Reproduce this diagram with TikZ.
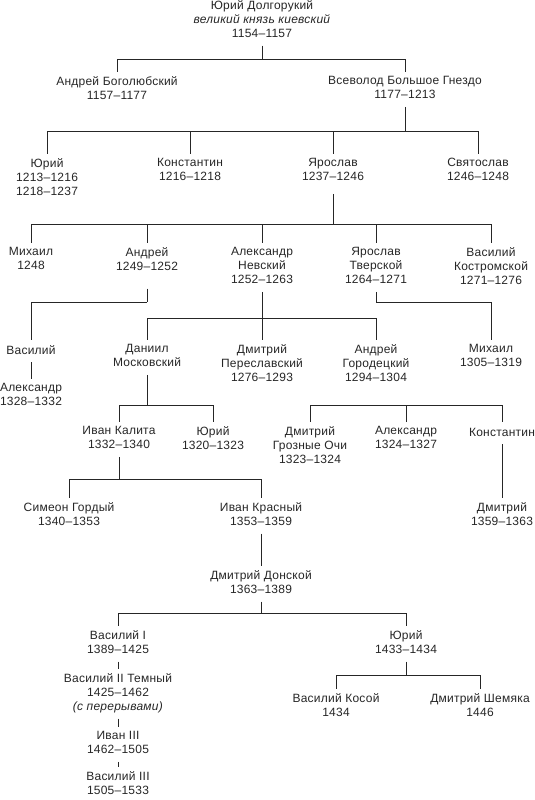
\documentclass[tikz,border=0pt]{standalone}
\usepackage{fontspec}
\setmainfont[LetterSpace=2]{Liberation Sans}
\begin{document}
\begin{tikzpicture}[x=1pt,y=-1pt,
    prince/.style={anchor=north,align=center,inner xsep=1pt,inner ysep=4pt,text=black!85,
      font=\fontsize{12}{14}\selectfont,
      execute at begin node=\strut,execute at end node=\strut},
    link/.style={draw=black!85,line width=0.8pt}]
    \useasboundingbox (0,0) rectangle (535,800);

    % princes
    \node[prince] (yudol) at (262,-4) {Юрий Долгорукий\\\textit{великий князь киевский}\\1154–1157};

    \node[prince] (anbog) at (117,72) {Андрей Боголюбский\\1157–1177};
    \node[prince] (vsev) at (405,72) {Всеволод Большое Гнездо\\1177–1213};

    \node[prince] (yuri) at (47,154) {Юрий\\1213–1216\\1218–1237};
    \node[prince] (konst) at (190,154) {Константин\\1216–1218};
    \node[prince] (yarosl) at (333,154) {Ярослав\\1237–1246};
    \node[prince] (svyat) at (478,154) {Святослав\\1246–1248};

    \node[prince] (mikh) at (31,243) {Михаил\\1248};
    \node[prince] (andr) at (147,243) {Андрей\\1249–1252};
    \node[prince] (nevsk) at (262,243) {Александр\\Невский\\1252–1263};
    \node[prince] (tversk) at (376,243) {Ярослав\\Тверской\\1264–1271};
    \node[prince] (kostr) at (491,243) {Василий\\Костромской\\1271–1276};

    \node[prince] (vasil) at (31,340) {Василий};
    \node[prince] (daniil) at (147,340) {Даниил\\Московский};
    \node[prince] (peresl) at (262,340) {Дмитрий\\Переславский\\1276–1293};
    \node[prince] (gorod) at (376,340) {Андрей\\Городецкий\\1294–1304};
    \node[prince] (mikhtv) at (491,340) {Михаил\\1305–1319};

    \node[prince] (alexv) at (31,379) {Александр\\1328–1332};

    \node[prince] (kalita) at (119,422) {Иван Калита\\1332–1340};
    \node[prince] (yurmos) at (213,422) {Юрий\\1320–1323};
    \node[prince] (groz) at (310,422) {Дмитрий\\Грозные Очи\\1323–1324};
    \node[prince] (alextv) at (406,422) {Александр\\1324–1327};
    \node[prince] (konstv) at (502,422) {Константин};

    \node[prince] (simeon) at (69,498) {Симеон Гордый\\1340–1353};
    \node[prince] (ivkras) at (261,498) {Иван Красный\\1353–1359};
    \node[prince] (dmitv) at (502,498) {Дмитрий\\1359–1363};

    \node[prince] (donsk) at (261,566) {Дмитрий Донской\\1363–1389};

    \node[prince] (vas1) at (118,626) {Василий I\\1389–1425};
    \node[prince] (yurzv) at (406,626) {Юрий\\1433–1434};
    \node[prince] (vas2) at (118,669) {Василий II Темный\\1425–1462\\\textit{(с перерывами)}};
    \node[prince] (kosoy) at (336,689) {Василий Косой\\1434};
    \node[prince] (shem) at (480,689) {Дмитрий Шемяка\\1446};
    \node[prince] (ivan3) at (118,727) {Иван III\\1462–1505};
    \node[prince] (vas3) at (118,767) {Василий III\\1505–1533};

    % junctions
    \coordinate (j1) at (262,59);
    \coordinate (j2) at (405,131);
    \coordinate (j3) at (333,224);
    \coordinate (j4) at (147,302);
    \coordinate (j5) at (262,318);
    \coordinate (j6) at (376,302);
    \coordinate (j7) at (147,405);
    \coordinate (j8) at (406,405);
    \coordinate (j9) at (119,479);
    \coordinate (j10) at (261,613);
    \coordinate (j11) at (406,675);

    % lines
    \draw[link] (yudol) -- (j1) (j1) -| (anbog) (j1) -| (vsev);
    \draw[link] (vsev) -- (j2) (j2) -| (yuri) (j2) -| (konst) (j2) -| (yarosl) (j2) -| (svyat);
    \draw[link] ([yshift=-5pt]yarosl.south) -- (j3) (j3) -| (mikh) (j3) -| (andr) (j3) -| (nevsk) (j3) -| (tversk) (j3) -| (kostr);
    \draw[link] ([yshift=-10pt]andr.south) -- (j4) (j4) -| (vasil);
    \draw[link] (nevsk) -- (peresl) (j5) -| (daniil) (j5) -| (gorod);
    \draw[link] (tversk) -- (j6) (j6) -| (mikhtv);
    \draw[link] (vasil) -- (alexv);
    \draw[link] (daniil) -- (j7) (j7) -| (kalita) (j7) -| (yurmos);
    \draw[link] (alextv) -- (j8) (j8) -| (groz) (j8) -| (konstv);
    \draw[link] (konstv) -- (dmitv);
    \draw[link] (kalita) -- (j9) (j9) -| (simeon) (j9) -| (ivkras);
    \draw[link] (ivkras) -- (donsk);
    \draw[link] (donsk) -- (j10) (j10) -| (vas1) (j10) -| (yurzv);
    \draw[link] (vas1) -- (vas2);
    \draw[link] (vas2) -- (ivan3);
    \draw[link] (ivan3) -- (vas3);
    \draw[link] (yurzv) -- (j11) (j11) -| (kosoy) (j11) -| (shem);
\end{tikzpicture}
\end{document}
